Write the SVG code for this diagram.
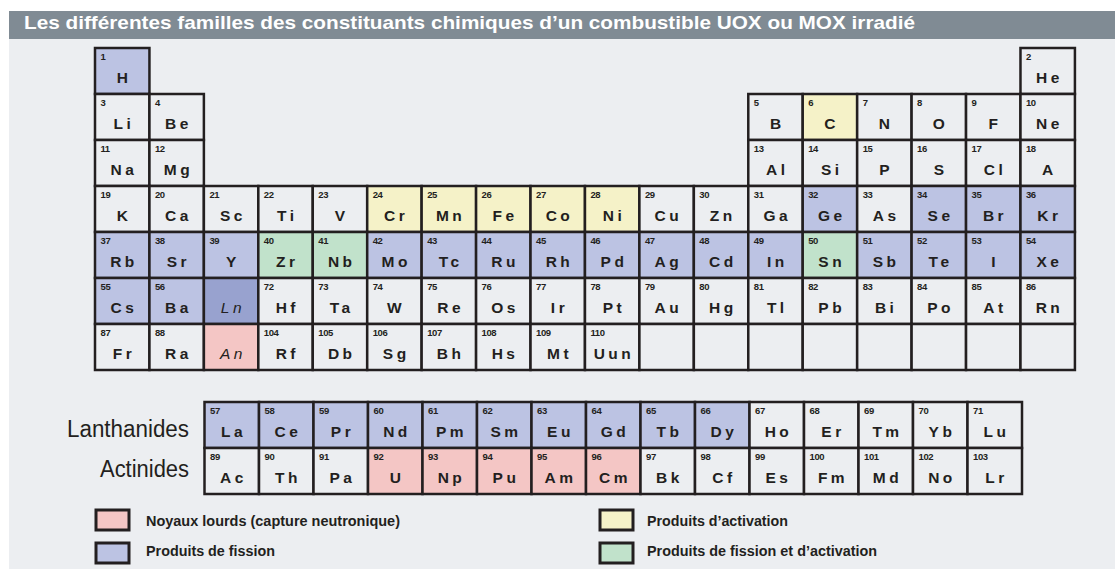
<svg xmlns="http://www.w3.org/2000/svg" width="1115" height="569" viewBox="0 0 1115 569">
<style>
.bg{fill:#eceef1}
.bar{fill:#808b94}
.title{font-family:"Liberation Sans",Arial,sans-serif;font-weight:bold;font-size:18.5px;fill:#ffffff}
.cell use{fill:#eceef1;stroke:#231f20;stroke-width:2.5}
.cell.fp use{fill:#bcc3e3}
.cell.ln use{fill:#98a2cf}
.cell.hv use{fill:#f4c6c5}
.cell.ac use{fill:#f5f2c8}
.cell.fa use{fill:#c1e2cb}
.n{font-family:"Liberation Sans",Arial,sans-serif;font-weight:bold;font-size:9.5px;letter-spacing:-0.4px;fill:#231f20}
.s{font-family:"Liberation Sans",Arial,sans-serif;font-weight:bold;font-size:15.5px;letter-spacing:3.5px;fill:#231f20;text-anchor:middle}
.it{font-weight:normal;font-style:italic}
.lab{font-family:"Liberation Sans",Arial,sans-serif;font-size:23px;fill:#231f20;text-anchor:end}
.leg rect{stroke:#231f20;stroke-width:3}
.lt{font-family:"Liberation Sans",Arial,sans-serif;font-weight:bold;font-size:14.5px;fill:#231f20}
</style>
<defs>
<rect id="cm" width="54.44" height="46"/>
<rect id="cl" width="54.5" height="46"/>
</defs>
<rect x="0" y="0" width="1115" height="569" fill="#ffffff"/>
<rect class="bg" x="9" y="39" width="1106" height="530"/>
<rect class="bar" x="9" y="11" width="1106" height="28"/>
<text class="title" x="24" y="29" textLength="891" lengthAdjust="spacingAndGlyphs">Les différentes familles des constituants chimiques d’un combustible UOX ou MOX irradié</text>

<g id="table">
<!-- Row 1 -->
<g id="el-H" class="cell fp" transform="translate(95,48)"><use href="#cm"/><text class="n" x="5.5" y="12">1</text><text class="s" x="29" y="34.5">H</text></g>
<g id="el-He" class="cell" transform="translate(1020.48,48)"><use href="#cm"/><text class="n" x="5.5" y="12">2</text><text class="s" x="29" y="34.5">He</text></g>
<!-- Row 2 -->
<g id="el-Li" class="cell" transform="translate(95,94)"><use href="#cm"/><text class="n" x="5.5" y="12">3</text><text class="s" x="29" y="34.5">Li</text></g>
<g id="el-Be" class="cell" transform="translate(149.44,94)"><use href="#cm"/><text class="n" x="5.5" y="12">4</text><text class="s" x="29" y="34.5">Be</text></g>
<g id="el-B" class="cell" transform="translate(748.28,94)"><use href="#cm"/><text class="n" x="5.5" y="12">5</text><text class="s" x="29" y="34.5">B</text></g>
<g id="el-C" class="cell ac" transform="translate(802.72,94)"><use href="#cm"/><text class="n" x="5.5" y="12">6</text><text class="s" x="29" y="34.5">C</text></g>
<g id="el-N" class="cell" transform="translate(857.16,94)"><use href="#cm"/><text class="n" x="5.5" y="12">7</text><text class="s" x="29" y="34.5">N</text></g>
<g id="el-O" class="cell" transform="translate(911.6,94)"><use href="#cm"/><text class="n" x="5.5" y="12">8</text><text class="s" x="29" y="34.5">O</text></g>
<g id="el-F" class="cell" transform="translate(966.04,94)"><use href="#cm"/><text class="n" x="5.5" y="12">9</text><text class="s" x="29" y="34.5">F</text></g>
<g id="el-Ne" class="cell" transform="translate(1020.48,94)"><use href="#cm"/><text class="n" x="5.5" y="12">10</text><text class="s" x="29" y="34.5">Ne</text></g>
<!-- Row 3 -->
<g id="el-Na" class="cell" transform="translate(95,140)"><use href="#cm"/><text class="n" x="5.5" y="12">11</text><text class="s" x="29" y="34.5">Na</text></g>
<g id="el-Mg" class="cell" transform="translate(149.44,140)"><use href="#cm"/><text class="n" x="5.5" y="12">12</text><text class="s" x="29" y="34.5">Mg</text></g>
<g id="el-Al" class="cell" transform="translate(748.28,140)"><use href="#cm"/><text class="n" x="5.5" y="12">13</text><text class="s" x="29" y="34.5">Al</text></g>
<g id="el-Si" class="cell" transform="translate(802.72,140)"><use href="#cm"/><text class="n" x="5.5" y="12">14</text><text class="s" x="29" y="34.5">Si</text></g>
<g id="el-P" class="cell" transform="translate(857.16,140)"><use href="#cm"/><text class="n" x="5.5" y="12">15</text><text class="s" x="29" y="34.5">P</text></g>
<g id="el-S" class="cell" transform="translate(911.6,140)"><use href="#cm"/><text class="n" x="5.5" y="12">16</text><text class="s" x="29" y="34.5">S</text></g>
<g id="el-Cl" class="cell" transform="translate(966.04,140)"><use href="#cm"/><text class="n" x="5.5" y="12">17</text><text class="s" x="29" y="34.5">Cl</text></g>
<g id="el-A" class="cell" transform="translate(1020.48,140)"><use href="#cm"/><text class="n" x="5.5" y="12">18</text><text class="s" x="29" y="34.5">A</text></g>
<!-- Row 4 -->
<g id="el-K" class="cell" transform="translate(95,186)"><use href="#cm"/><text class="n" x="5.5" y="12">19</text><text class="s" x="29" y="34.5">K</text></g>
<g id="el-Ca" class="cell" transform="translate(149.44,186)"><use href="#cm"/><text class="n" x="5.5" y="12">20</text><text class="s" x="29" y="34.5">Ca</text></g>
<g id="el-Sc" class="cell" transform="translate(203.88,186)"><use href="#cm"/><text class="n" x="5.5" y="12">21</text><text class="s" x="29" y="34.5">Sc</text></g>
<g id="el-Ti" class="cell" transform="translate(258.32,186)"><use href="#cm"/><text class="n" x="5.5" y="12">22</text><text class="s" x="29" y="34.5">Ti</text></g>
<g id="el-V" class="cell" transform="translate(312.76,186)"><use href="#cm"/><text class="n" x="5.5" y="12">23</text><text class="s" x="29" y="34.5">V</text></g>
<g id="el-Cr" class="cell ac" transform="translate(367.2,186)"><use href="#cm"/><text class="n" x="5.5" y="12">24</text><text class="s" x="29" y="34.5">Cr</text></g>
<g id="el-Mn" class="cell ac" transform="translate(421.64,186)"><use href="#cm"/><text class="n" x="5.5" y="12">25</text><text class="s" x="29" y="34.5">Mn</text></g>
<g id="el-Fe" class="cell ac" transform="translate(476.08,186)"><use href="#cm"/><text class="n" x="5.5" y="12">26</text><text class="s" x="29" y="34.5">Fe</text></g>
<g id="el-Co" class="cell ac" transform="translate(530.52,186)"><use href="#cm"/><text class="n" x="5.5" y="12">27</text><text class="s" x="29" y="34.5">Co</text></g>
<g id="el-Ni" class="cell ac" transform="translate(584.96,186)"><use href="#cm"/><text class="n" x="5.5" y="12">28</text><text class="s" x="29" y="34.5">Ni</text></g>
<g id="el-Cu" class="cell" transform="translate(639.4,186)"><use href="#cm"/><text class="n" x="5.5" y="12">29</text><text class="s" x="29" y="34.5">Cu</text></g>
<g id="el-Zn" class="cell" transform="translate(693.84,186)"><use href="#cm"/><text class="n" x="5.5" y="12">30</text><text class="s" x="29" y="34.5">Zn</text></g>
<g id="el-Ga" class="cell" transform="translate(748.28,186)"><use href="#cm"/><text class="n" x="5.5" y="12">31</text><text class="s" x="29" y="34.5">Ga</text></g>
<g id="el-Ge" class="cell fp" transform="translate(802.72,186)"><use href="#cm"/><text class="n" x="5.5" y="12">32</text><text class="s" x="29" y="34.5">Ge</text></g>
<g id="el-As" class="cell" transform="translate(857.16,186)"><use href="#cm"/><text class="n" x="5.5" y="12">33</text><text class="s" x="29" y="34.5">As</text></g>
<g id="el-Se" class="cell fp" transform="translate(911.6,186)"><use href="#cm"/><text class="n" x="5.5" y="12">34</text><text class="s" x="29" y="34.5">Se</text></g>
<g id="el-Br" class="cell fp" transform="translate(966.04,186)"><use href="#cm"/><text class="n" x="5.5" y="12">35</text><text class="s" x="29" y="34.5">Br</text></g>
<g id="el-Kr" class="cell fp" transform="translate(1020.48,186)"><use href="#cm"/><text class="n" x="5.5" y="12">36</text><text class="s" x="29" y="34.5">Kr</text></g>
<!-- Row 5 -->
<g id="el-Rb" class="cell fp" transform="translate(95,232)"><use href="#cm"/><text class="n" x="5.5" y="12">37</text><text class="s" x="29" y="34.5">Rb</text></g>
<g id="el-Sr" class="cell fp" transform="translate(149.44,232)"><use href="#cm"/><text class="n" x="5.5" y="12">38</text><text class="s" x="29" y="34.5">Sr</text></g>
<g id="el-Y" class="cell fp" transform="translate(203.88,232)"><use href="#cm"/><text class="n" x="5.5" y="12">39</text><text class="s" x="29" y="34.5">Y</text></g>
<g id="el-Zr" class="cell fa" transform="translate(258.32,232)"><use href="#cm"/><text class="n" x="5.5" y="12">40</text><text class="s" x="29" y="34.5">Zr</text></g>
<g id="el-Nb" class="cell fa" transform="translate(312.76,232)"><use href="#cm"/><text class="n" x="5.5" y="12">41</text><text class="s" x="29" y="34.5">Nb</text></g>
<g id="el-Mo" class="cell fp" transform="translate(367.2,232)"><use href="#cm"/><text class="n" x="5.5" y="12">42</text><text class="s" x="29" y="34.5">Mo</text></g>
<g id="el-Tc" class="cell fp" transform="translate(421.64,232)"><use href="#cm"/><text class="n" x="5.5" y="12">43</text><text class="s" x="29" y="34.5">Tc</text></g>
<g id="el-Ru" class="cell fp" transform="translate(476.08,232)"><use href="#cm"/><text class="n" x="5.5" y="12">44</text><text class="s" x="29" y="34.5">Ru</text></g>
<g id="el-Rh" class="cell fp" transform="translate(530.52,232)"><use href="#cm"/><text class="n" x="5.5" y="12">45</text><text class="s" x="29" y="34.5">Rh</text></g>
<g id="el-Pd" class="cell fp" transform="translate(584.96,232)"><use href="#cm"/><text class="n" x="5.5" y="12">46</text><text class="s" x="29" y="34.5">Pd</text></g>
<g id="el-Ag" class="cell fp" transform="translate(639.4,232)"><use href="#cm"/><text class="n" x="5.5" y="12">47</text><text class="s" x="29" y="34.5">Ag</text></g>
<g id="el-Cd" class="cell fp" transform="translate(693.84,232)"><use href="#cm"/><text class="n" x="5.5" y="12">48</text><text class="s" x="29" y="34.5">Cd</text></g>
<g id="el-In" class="cell fp" transform="translate(748.28,232)"><use href="#cm"/><text class="n" x="5.5" y="12">49</text><text class="s" x="29" y="34.5">In</text></g>
<g id="el-Sn" class="cell fa" transform="translate(802.72,232)"><use href="#cm"/><text class="n" x="5.5" y="12">50</text><text class="s" x="29" y="34.5">Sn</text></g>
<g id="el-Sb" class="cell fp" transform="translate(857.16,232)"><use href="#cm"/><text class="n" x="5.5" y="12">51</text><text class="s" x="29" y="34.5">Sb</text></g>
<g id="el-Te" class="cell fp" transform="translate(911.6,232)"><use href="#cm"/><text class="n" x="5.5" y="12">52</text><text class="s" x="29" y="34.5">Te</text></g>
<g id="el-I" class="cell fp" transform="translate(966.04,232)"><use href="#cm"/><text class="n" x="5.5" y="12">53</text><text class="s" x="29" y="34.5">I</text></g>
<g id="el-Xe" class="cell fp" transform="translate(1020.48,232)"><use href="#cm"/><text class="n" x="5.5" y="12">54</text><text class="s" x="29" y="34.5">Xe</text></g>
<!-- Row 6 -->
<g id="el-Cs" class="cell fp" transform="translate(95,278)"><use href="#cm"/><text class="n" x="5.5" y="12">55</text><text class="s" x="29" y="34.5">Cs</text></g>
<g id="el-Ba" class="cell fp" transform="translate(149.44,278)"><use href="#cm"/><text class="n" x="5.5" y="12">56</text><text class="s" x="29" y="34.5">Ba</text></g>
<g id="el-Ln" class="cell ln" transform="translate(203.88,278)"><use href="#cm"/><text class="s it" x="29" y="34.5">Ln</text></g>
<g id="el-Hf" class="cell" transform="translate(258.32,278)"><use href="#cm"/><text class="n" x="5.5" y="12">72</text><text class="s" x="29" y="34.5">Hf</text></g>
<g id="el-Ta" class="cell" transform="translate(312.76,278)"><use href="#cm"/><text class="n" x="5.5" y="12">73</text><text class="s" x="29" y="34.5">Ta</text></g>
<g id="el-W" class="cell" transform="translate(367.2,278)"><use href="#cm"/><text class="n" x="5.5" y="12">74</text><text class="s" x="29" y="34.5">W</text></g>
<g id="el-Re" class="cell" transform="translate(421.64,278)"><use href="#cm"/><text class="n" x="5.5" y="12">75</text><text class="s" x="29" y="34.5">Re</text></g>
<g id="el-Os" class="cell" transform="translate(476.08,278)"><use href="#cm"/><text class="n" x="5.5" y="12">76</text><text class="s" x="29" y="34.5">Os</text></g>
<g id="el-Ir" class="cell" transform="translate(530.52,278)"><use href="#cm"/><text class="n" x="5.5" y="12">77</text><text class="s" x="29" y="34.5">Ir</text></g>
<g id="el-Pt" class="cell" transform="translate(584.96,278)"><use href="#cm"/><text class="n" x="5.5" y="12">78</text><text class="s" x="29" y="34.5">Pt</text></g>
<g id="el-Au" class="cell" transform="translate(639.4,278)"><use href="#cm"/><text class="n" x="5.5" y="12">79</text><text class="s" x="29" y="34.5">Au</text></g>
<g id="el-Hg" class="cell" transform="translate(693.84,278)"><use href="#cm"/><text class="n" x="5.5" y="12">80</text><text class="s" x="29" y="34.5">Hg</text></g>
<g id="el-Tl" class="cell" transform="translate(748.28,278)"><use href="#cm"/><text class="n" x="5.5" y="12">81</text><text class="s" x="29" y="34.5">Tl</text></g>
<g id="el-Pb" class="cell" transform="translate(802.72,278)"><use href="#cm"/><text class="n" x="5.5" y="12">82</text><text class="s" x="29" y="34.5">Pb</text></g>
<g id="el-Bi" class="cell" transform="translate(857.16,278)"><use href="#cm"/><text class="n" x="5.5" y="12">83</text><text class="s" x="29" y="34.5">Bi</text></g>
<g id="el-Po" class="cell" transform="translate(911.6,278)"><use href="#cm"/><text class="n" x="5.5" y="12">84</text><text class="s" x="29" y="34.5">Po</text></g>
<g id="el-At" class="cell" transform="translate(966.04,278)"><use href="#cm"/><text class="n" x="5.5" y="12">85</text><text class="s" x="29" y="34.5">At</text></g>
<g id="el-Rn" class="cell" transform="translate(1020.48,278)"><use href="#cm"/><text class="n" x="5.5" y="12">86</text><text class="s" x="29" y="34.5">Rn</text></g>
<!-- Row 7 -->
<g id="el-Fr" class="cell" transform="translate(95,324)"><use href="#cm"/><text class="n" x="5.5" y="12">87</text><text class="s" x="29" y="34.5">Fr</text></g>
<g id="el-Ra" class="cell" transform="translate(149.44,324)"><use href="#cm"/><text class="n" x="5.5" y="12">88</text><text class="s" x="29" y="34.5">Ra</text></g>
<g id="el-An" class="cell hv" transform="translate(203.88,324)"><use href="#cm"/><text class="s it" x="29" y="34.5">An</text></g>
<g id="el-Rf" class="cell" transform="translate(258.32,324)"><use href="#cm"/><text class="n" x="5.5" y="12">104</text><text class="s" x="29" y="34.5">Rf</text></g>
<g id="el-Db" class="cell" transform="translate(312.76,324)"><use href="#cm"/><text class="n" x="5.5" y="12">105</text><text class="s" x="29" y="34.5">Db</text></g>
<g id="el-Sg" class="cell" transform="translate(367.2,324)"><use href="#cm"/><text class="n" x="5.5" y="12">106</text><text class="s" x="29" y="34.5">Sg</text></g>
<g id="el-Bh" class="cell" transform="translate(421.64,324)"><use href="#cm"/><text class="n" x="5.5" y="12">107</text><text class="s" x="29" y="34.5">Bh</text></g>
<g id="el-Hs" class="cell" transform="translate(476.08,324)"><use href="#cm"/><text class="n" x="5.5" y="12">108</text><text class="s" x="29" y="34.5">Hs</text></g>
<g id="el-Mt" class="cell" transform="translate(530.52,324)"><use href="#cm"/><text class="n" x="5.5" y="12">109</text><text class="s" x="29" y="34.5">Mt</text></g>
<g id="el-Uun" class="cell" transform="translate(584.96,324)"><use href="#cm"/><text class="n" x="5.5" y="12">110</text><text class="s" x="29" y="34.5">Uun</text></g>
<g id="empty-11" class="cell" transform="translate(639.4,324)"><use href="#cm"/></g>
<g id="empty-12" class="cell" transform="translate(693.84,324)"><use href="#cm"/></g>
<g id="empty-13" class="cell" transform="translate(748.28,324)"><use href="#cm"/></g>
<g id="empty-14" class="cell" transform="translate(802.72,324)"><use href="#cm"/></g>
<g id="empty-15" class="cell" transform="translate(857.16,324)"><use href="#cm"/></g>
<g id="empty-16" class="cell" transform="translate(911.6,324)"><use href="#cm"/></g>
<g id="empty-17" class="cell" transform="translate(966.04,324)"><use href="#cm"/></g>
<g id="empty-18" class="cell" transform="translate(1020.48,324)"><use href="#cm"/></g>
</g>

<text class="lab" x="189" y="437" textLength="122" lengthAdjust="spacingAndGlyphs">Lanthanides</text>
<text class="lab" x="189" y="477" textLength="89" lengthAdjust="spacingAndGlyphs">Actinides</text>

<g id="lanthanides">
<g id="el-La" class="cell fp" transform="translate(204.5,402)"><use href="#cl"/><text class="n" x="5.5" y="12">57</text><text class="s" x="29" y="34.5">La</text></g>
<g id="el-Ce" class="cell fp" transform="translate(259,402)"><use href="#cl"/><text class="n" x="5.5" y="12">58</text><text class="s" x="29" y="34.5">Ce</text></g>
<g id="el-Pr" class="cell fp" transform="translate(313.5,402)"><use href="#cl"/><text class="n" x="5.5" y="12">59</text><text class="s" x="29" y="34.5">Pr</text></g>
<g id="el-Nd" class="cell fp" transform="translate(368,402)"><use href="#cl"/><text class="n" x="5.5" y="12">60</text><text class="s" x="29" y="34.5">Nd</text></g>
<g id="el-Pm" class="cell fp" transform="translate(422.5,402)"><use href="#cl"/><text class="n" x="5.5" y="12">61</text><text class="s" x="29" y="34.5">Pm</text></g>
<g id="el-Sm" class="cell fp" transform="translate(477,402)"><use href="#cl"/><text class="n" x="5.5" y="12">62</text><text class="s" x="29" y="34.5">Sm</text></g>
<g id="el-Eu" class="cell fp" transform="translate(531.5,402)"><use href="#cl"/><text class="n" x="5.5" y="12">63</text><text class="s" x="29" y="34.5">Eu</text></g>
<g id="el-Gd" class="cell fp" transform="translate(586,402)"><use href="#cl"/><text class="n" x="5.5" y="12">64</text><text class="s" x="29" y="34.5">Gd</text></g>
<g id="el-Tb" class="cell fp" transform="translate(640.5,402)"><use href="#cl"/><text class="n" x="5.5" y="12">65</text><text class="s" x="29" y="34.5">Tb</text></g>
<g id="el-Dy" class="cell fp" transform="translate(695,402)"><use href="#cl"/><text class="n" x="5.5" y="12">66</text><text class="s" x="29" y="34.5">Dy</text></g>
<g id="el-Ho" class="cell" transform="translate(749.5,402)"><use href="#cl"/><text class="n" x="5.5" y="12">67</text><text class="s" x="29" y="34.5">Ho</text></g>
<g id="el-Er" class="cell" transform="translate(804,402)"><use href="#cl"/><text class="n" x="5.5" y="12">68</text><text class="s" x="29" y="34.5">Er</text></g>
<g id="el-Tm" class="cell" transform="translate(858.5,402)"><use href="#cl"/><text class="n" x="5.5" y="12">69</text><text class="s" x="29" y="34.5">Tm</text></g>
<g id="el-Yb" class="cell" transform="translate(913,402)"><use href="#cl"/><text class="n" x="5.5" y="12">70</text><text class="s" x="29" y="34.5">Yb</text></g>
<g id="el-Lu" class="cell" transform="translate(967.5,402)"><use href="#cl"/><text class="n" x="5.5" y="12">71</text><text class="s" x="29" y="34.5">Lu</text></g>
</g>
<g id="actinides">
<g id="el-Ac" class="cell" transform="translate(204.5,448)"><use href="#cl"/><text class="n" x="5.5" y="12">89</text><text class="s" x="29" y="34.5">Ac</text></g>
<g id="el-Th" class="cell" transform="translate(259,448)"><use href="#cl"/><text class="n" x="5.5" y="12">90</text><text class="s" x="29" y="34.5">Th</text></g>
<g id="el-Pa" class="cell" transform="translate(313.5,448)"><use href="#cl"/><text class="n" x="5.5" y="12">91</text><text class="s" x="29" y="34.5">Pa</text></g>
<g id="el-U" class="cell hv" transform="translate(368,448)"><use href="#cl"/><text class="n" x="5.5" y="12">92</text><text class="s" x="29" y="34.5">U</text></g>
<g id="el-Np" class="cell hv" transform="translate(422.5,448)"><use href="#cl"/><text class="n" x="5.5" y="12">93</text><text class="s" x="29" y="34.5">Np</text></g>
<g id="el-Pu" class="cell hv" transform="translate(477,448)"><use href="#cl"/><text class="n" x="5.5" y="12">94</text><text class="s" x="29" y="34.5">Pu</text></g>
<g id="el-Am" class="cell hv" transform="translate(531.5,448)"><use href="#cl"/><text class="n" x="5.5" y="12">95</text><text class="s" x="29" y="34.5">Am</text></g>
<g id="el-Cm" class="cell hv" transform="translate(586,448)"><use href="#cl"/><text class="n" x="5.5" y="12">96</text><text class="s" x="29" y="34.5">Cm</text></g>
<g id="el-Bk" class="cell" transform="translate(640.5,448)"><use href="#cl"/><text class="n" x="5.5" y="12">97</text><text class="s" x="29" y="34.5">Bk</text></g>
<g id="el-Cf" class="cell" transform="translate(695,448)"><use href="#cl"/><text class="n" x="5.5" y="12">98</text><text class="s" x="29" y="34.5">Cf</text></g>
<g id="el-Es" class="cell" transform="translate(749.5,448)"><use href="#cl"/><text class="n" x="5.5" y="12">99</text><text class="s" x="29" y="34.5">Es</text></g>
<g id="el-Fm" class="cell" transform="translate(804,448)"><use href="#cl"/><text class="n" x="5.5" y="12">100</text><text class="s" x="29" y="34.5">Fm</text></g>
<g id="el-Md" class="cell" transform="translate(858.5,448)"><use href="#cl"/><text class="n" x="5.5" y="12">101</text><text class="s" x="29" y="34.5">Md</text></g>
<g id="el-No" class="cell" transform="translate(913,448)"><use href="#cl"/><text class="n" x="5.5" y="12">102</text><text class="s" x="29" y="34.5">No</text></g>
<g id="el-Lr" class="cell" transform="translate(967.5,448)"><use href="#cl"/><text class="n" x="5.5" y="12">103</text><text class="s" x="29" y="34.5">Lr</text></g>
</g>

<g id="legend" class="leg">
<g id="leg-heavy"><rect x="96" y="510" width="33" height="20" fill="#f4c6c5"/><text class="lt" x="146" y="526" textLength="254" lengthAdjust="spacingAndGlyphs">Noyaux lourds (capture neutronique)</text></g>
<g id="leg-fission"><rect x="96" y="543" width="33" height="20" fill="#bcc3e3"/><text class="lt" x="146" y="556" textLength="129" lengthAdjust="spacingAndGlyphs">Produits de fission</text></g>
<g id="leg-activation"><rect x="600" y="510" width="33" height="20" fill="#f5f2c8"/><text class="lt" x="647" y="526" textLength="141" lengthAdjust="spacingAndGlyphs">Produits d’activation</text></g>
<g id="leg-fa"><rect x="600" y="543" width="33" height="20" fill="#c1e2cb"/><text class="lt" x="647" y="556" textLength="230" lengthAdjust="spacingAndGlyphs">Produits de fission et d’activation</text></g>
</g>
</svg>
